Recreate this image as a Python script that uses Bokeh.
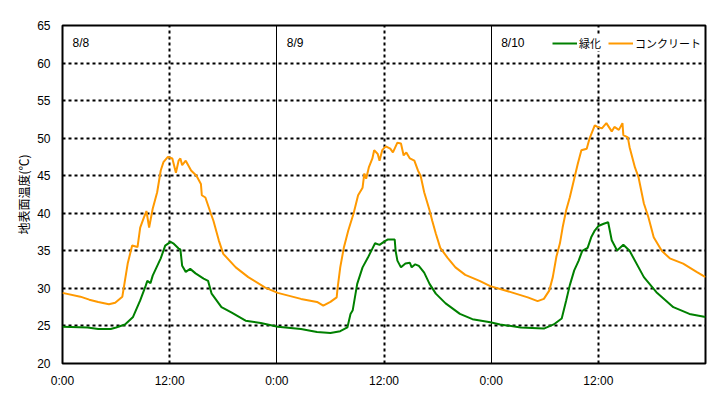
from bokeh.plotting import figure
from bokeh.models import (FixedTicker, Grid, Legend, LegendItem, ColumnDataSource, Range1d)
from bokeh.core.properties import value
from bokeh.embed import file_html
from bokeh.resources import INLINE

# ---- data (hours from 8/8 0:00, surface temperature in deg C) ----
conc_hours = [0, 2.0, 3.0, 4.0, 5.2, 5.9, 6.7, 7.3, 7.8, 8.4, 8.7, 9.1, 9.4, 9.7, 10.1, 10.6,
              11.0, 11.3, 11.8, 12.3, 12.7, 13.0, 13.2, 13.4, 13.8, 14.4, 15.0, 15.5, 15.6, 16.0,
              16.6, 16.9, 17.5, 18.0, 19.4, 20.8, 22.7, 24.1, 26.7, 28.5, 29.2, 30.0, 30.7, 30.8,
              31.1, 31.5, 32.0, 32.6, 33.1, 33.6, 33.8, 34.0, 34.3, 34.7, 34.9, 35.3, 35.5, 35.8,
              36.2, 36.7, 37.0, 37.5, 37.9, 38.2, 38.5, 38.9, 39.4, 39.8, 40.1, 40.5, 41.1, 41.4,
              41.8, 42.3, 43.1, 44.0, 45.1, 46.7, 47.9, 50.2, 52.1, 53.2, 53.9, 54.5, 54.9, 55.3,
              55.7, 56.0, 56.4, 56.8, 57.3, 57.7, 58.1, 58.7, 59.0, 59.6, 59.9, 60.4, 60.9, 61.5,
              61.8, 62.3, 62.7, 62.8, 63.3, 63.5, 64.1, 64.5, 65.1, 65.6, 66.2, 67.1, 68.0, 69.5,
              71.0, 72.0]
conc_temp = [29.4, 28.9, 28.5, 28.2, 27.9, 28.1, 28.9, 33.3, 35.7, 35.5, 38.1, 39.4, 40.3, 38.1, 40.6, 42.8,
             45.7, 46.8, 47.5, 47.3, 45.4, 47.0, 47.3, 46.4, 47.0, 45.7, 45.0, 43.9, 42.4, 42.1,
             40.0, 39.0, 36.4, 34.6, 32.8, 31.5, 30.1, 29.4, 28.6, 28.2, 27.7, 28.2, 28.8, 30.0,
             32.8, 35.4, 37.7, 40.0, 42.4, 43.4, 45.3, 44.6, 46.1, 47.3, 48.4, 47.9, 47.0, 48.4,
             48.9, 48.6, 48.1, 49.4, 49.3, 47.7, 48.1, 47.3, 47.0, 45.7, 45.0, 42.8, 40.4, 39.0,
             37.3, 35.4, 34.1, 32.8, 31.8, 31.0, 30.3, 29.5, 28.8, 28.3, 28.6, 29.7, 31.5, 34.2,
             36.0, 38.1, 40.4, 42.1, 44.6, 46.6, 48.4, 48.6, 49.9, 51.7, 51.5, 51.3, 52.0, 50.9,
             51.5, 51.1, 52.0, 50.4, 50.1, 48.8, 46.1, 44.8, 41.3, 39.5, 36.8, 35.0, 34.0, 33.3,
             32.2, 31.5]

green_hours = [0, 2.8, 4.0, 5.4, 6.0, 7.0, 7.9, 8.7, 9.3, 9.5, 9.85, 10.1, 11.0, 11.5, 12.1, 12.4,
               13.0, 13.2, 13.4, 13.8, 14.3, 14.9, 15.8, 16.3, 16.7, 17.8, 18.9, 20.5, 22.2, 24.1,
               26.7, 28.5, 30.0, 31.1, 31.9, 32.25, 32.5, 33.0, 33.6, 34.2, 34.7, 35.0, 35.5, 36.1,
               36.4, 37.2, 37.3, 37.5, 37.9, 38.4, 38.9, 39.1, 39.5, 39.9, 40.5, 41.1, 41.8, 42.9,
               44.5, 45.9, 47.9, 49.0, 51.3, 53.9, 55.0, 55.9, 56.4, 56.8, 57.3, 57.8, 58.2, 58.8,
               59.2, 59.6, 60.0, 60.6, 61.1, 61.5, 62.1, 62.8, 63.5, 65.1, 66.5, 68.4, 70.2, 72.0]
green_temp = [24.9, 24.8, 24.6, 24.6, 24.8, 25.2, 26.2, 28.4, 30.3, 31.0, 30.7, 31.7, 34.0, 35.7, 36.2, 36.0,
              35.3, 35.2, 33.0, 32.2, 32.6, 32.0, 31.3, 31.0, 29.3, 27.5, 26.8, 25.7, 25.4, 24.9,
              24.6, 24.2, 24.05, 24.3, 24.8, 26.6, 27.1, 30.6, 32.8, 34.1, 35.3, 36.0, 35.8, 36.3,
              36.5, 36.5, 35.0, 33.7, 32.8, 33.3, 33.4, 32.8, 33.2, 33.0, 32.1, 30.6, 29.3, 28.0,
              26.6, 25.9, 25.5, 25.2, 24.8, 24.65, 25.2, 26.0, 28.4, 30.4, 32.4, 33.7, 35.0, 35.4,
              36.8, 37.7, 38.3, 38.6, 38.8, 36.4, 35.05, 35.8, 35.0, 31.5, 29.5, 27.5, 26.6, 26.2]

series_names = ["緑化", "コンクリート"]
series_colors = ["#008000", "#FF9900"]

x_ticks = [0, 12, 24, 36, 48, 60]
x_tick_labels = ["0:00", "12:00", "0:00", "12:00", "0:00", "12:00"]
y_ticks = [20, 25, 30, 35, 40, 45, 50, 55, 60, 65]
noon_lines = [12, 36, 60]
midnight_lines = [24, 48]
day_starts = [0, 24, 48]
day_labels = ["8/8", "8/9", "8/10"]
y_label = "地表面温度(℃)"

assert len(conc_hours) == len(conc_temp)
assert len(green_hours) == len(green_temp)

p = figure(width=713, height=390, output_backend="svg", toolbar_location=None,
           x_range=Range1d(0, 72), y_range=Range1d(20, 65),
           min_border_left=62, min_border_right=8, min_border_top=25, min_border_bottom=27)
p.background_fill_color = "white"
p.border_fill_color = "white"
p.outline_line_color = "black"
p.outline_line_width = 2

# axes
p.xaxis.ticker = FixedTicker(ticks=x_ticks)
p.xaxis.major_label_overrides = {t: l for t, l in zip(x_ticks, x_tick_labels)}
p.yaxis.ticker = FixedTicker(ticks=y_ticks)
for ax in (p.xaxis[0], p.yaxis[0]):
    ax.axis_line_color = None
    ax.major_tick_line_color = None
    ax.minor_tick_line_color = None
    ax.major_tick_out = 0
    ax.major_tick_in = 0
    ax.minor_tick_out = 0
    ax.minor_tick_in = 0
    ax.major_label_text_font = "Liberation Sans"
    ax.major_label_text_font_size = "12px"
    ax.major_label_text_color = "black"
p.xaxis.major_label_standoff = 10
p.yaxis.major_label_standoff = 12
p.yaxis.axis_label = y_label
p.yaxis.axis_label_text_font = "Noto Sans CJK JP"
p.yaxis.axis_label_text_font_size = "12px"
p.yaxis.axis_label_text_font_style = "normal"
p.yaxis.axis_label_text_color = "black"
p.yaxis.axis_label_standoff = 2

# grids
p.xgrid.ticker = FixedTicker(ticks=noon_lines)
p.xgrid.grid_line_color = "black"
p.xgrid.grid_line_width = 2
p.xgrid.grid_line_dash = "3 3"
p.ygrid.ticker = FixedTicker(ticks=y_ticks[1:-1])
p.ygrid.grid_line_color = "black"
p.ygrid.grid_line_width = 2
p.ygrid.grid_line_dash = "3 3"
mid_grid = Grid(dimension=0, ticker=FixedTicker(ticks=midnight_lines),
                grid_line_color="black", grid_line_width=1)
p.add_layout(mid_grid)

# series
r_green = p.line(green_hours, green_temp, line_color=series_colors[0], line_width=2)
r_conc = p.line(conc_hours, conc_temp, line_color=series_colors[1], line_width=2)

# day labels
src = ColumnDataSource(dict(x=day_starts, y=[65] * len(day_starts), t=day_labels))
p.text(x="x", y="y", text="t", source=src, x_offset=10, y_offset=17,
       text_font=value("Liberation Sans"), text_font_size="12px", text_color="black",
       text_baseline="middle", text_align="left")

legend = Legend(items=[LegendItem(label=series_names[0], renderers=[r_green]),
                       LegendItem(label=series_names[1], renderers=[r_conc])],
                orientation="horizontal", location=(490, 312),
                glyph_width=25, glyph_height=12, label_height=12, label_standoff=2,
                spacing=7, padding=3, margin=0,
                label_text_font="Noto Sans CJK JP", label_text_font_size="11px",
                label_text_color="black",
                background_fill_color="white", background_fill_alpha=1.0,
                border_line_color=None)
p.add_layout(legend)

open("out.html", "w").write(file_html(p, INLINE))
